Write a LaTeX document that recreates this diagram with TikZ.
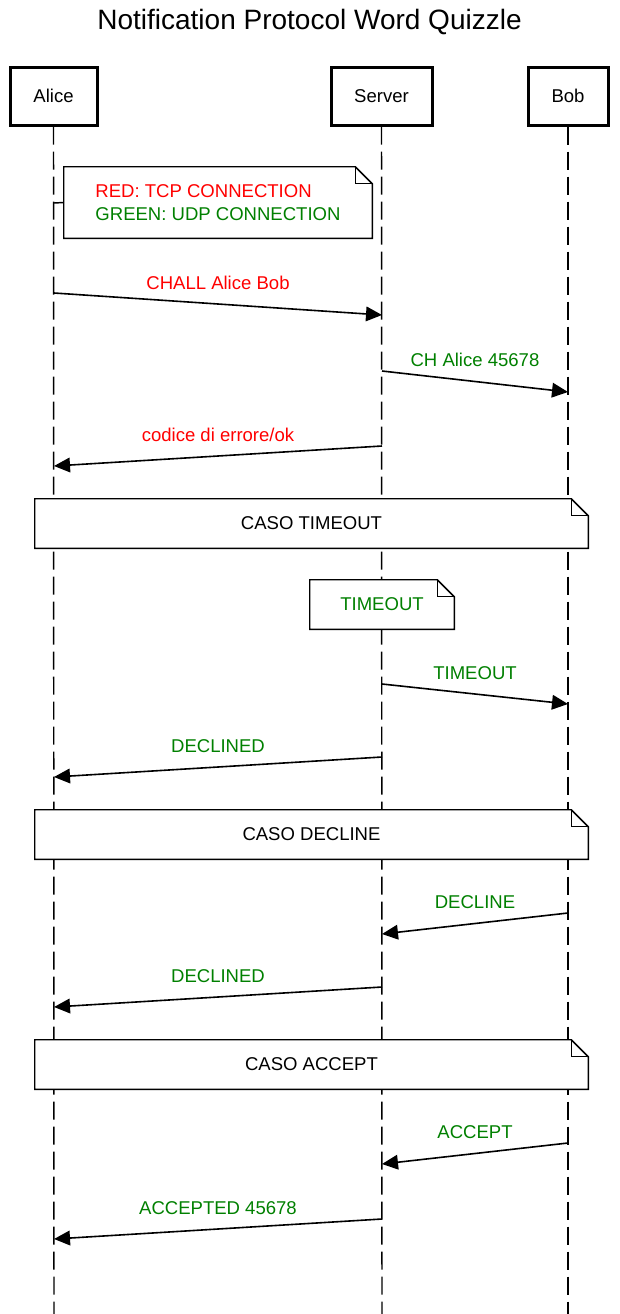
\documentclass[tikz,border=0pt]{standalone}
\usepackage{fontspec}
\setmainfont{Liberation Sans}
\usetikzlibrary{arrows.meta,positioning}

\definecolor{tcpred}{RGB}{255,0,0}
\definecolor{udpgreen}{RGB}{0,128,0}

% folded corner outline for notes and frames
\newcommand\foldbox[1]{%
  \filldraw[fill=white,line width=1.1pt] (#1.south west) -- (#1.north west)
    -- ([xshift=-12.75pt]#1.north east) -- ([yshift=-12.75pt]#1.north east)
    -- (#1.south east) -- cycle;
  \draw[line width=1.1pt] ([xshift=-12.75pt]#1.north east) |- ([yshift=-12.75pt]#1.north east);}

\begin{document}
\begin{tikzpicture}[x=0.75pt,y=-0.75pt,>=Triangle,
  every node/.style={font=\fontsize{13.9}{17}\selectfont},
  actor/.style={draw,line width=2.25pt,minimum height=43.5pt,inner sep=0pt},
  lifeline/.style={line width=1.1pt,dash pattern=on 13.5pt off 5.25pt},
  note/.style={inner sep=0pt},
  msg/.style={-{Triangle[length=12pt,width=11pt]},line width=1.2pt},
  lbl/.style={midway,yshift=16pt}]
\useasboundingbox (0,0) rectangle (619,1314);

\node[font=\fontsize{21}{25}\selectfont] (title) at (309.5,22) {Notification Protocol Word Quizzle};

% participants
\node[actor,minimum width=65.25pt] (alice)  at (53.5,96)  {Alice};
\node[actor,minimum width=75.75pt] (server) at (381.5,96) {Server};
\node[actor,minimum width=60pt]    (bob)    at (568,96)   {Bob};

\coordinate (aend) at (54,1314);
\coordinate (send) at (382,1314);
\coordinate (bend) at (568,1314);
\draw[lifeline] (alice.south) -- (aend);
\draw[lifeline] (server.south) -- (send);
\draw[lifeline] (bob.south) -- (bend);

% legend
\node[note,minimum width=231pt,minimum height=53.25pt] (legend) at (218,202.5) {};
\foldbox{legend}
\node[align=left] (legtxt) at (legend.center) {\textcolor{tcpred}{RED: TCP CONNECTION}\\\textcolor{udpgreen}{GREEN: UDP CONNECTION}};
\coordinate (l0) at (54,203);
\draw[line width=1.1pt] (l0) -- (legend.west);

% challenge
\coordinate (a1) at (54,293);  \coordinate (s1) at (382,315);
\coordinate (s2) at (382,371); \coordinate (b2) at (568,392);
\coordinate (s3) at (382,446); \coordinate (a3) at (54,466);
\draw[msg] (a1) -- (s1) node[lbl,text=tcpred] {CHALL Alice Bob};
\draw[msg] (s2) -- (b2) node[lbl,text=udpgreen] {CH Alice 45678};
\draw[msg] (s3) -- (a3) node[lbl,text=tcpred] {codice di errore/ok};

% caso timeout
\node[note,minimum width=414.75pt,minimum height=36.75pt] (ftimeout) at (311.5,523.5) {};
\foldbox{ftimeout}
\node (ttimeout) at (ftimeout.center) {CASO TIMEOUT};
\node[note,minimum width=108pt,minimum height=36.75pt] (ntimeout) at (382,604.5) {};
\foldbox{ntimeout}
\node[text=udpgreen] (ntxt) at (ntimeout.center) {TIMEOUT};

\coordinate (s4) at (382,684); \coordinate (b4) at (568,704);
\coordinate (s5) at (382,757); \coordinate (a5) at (54,777);
\draw[msg] (s4) -- (b4) node[lbl,text=udpgreen] {TIMEOUT};
\draw[msg] (s5) -- (a5) node[lbl,text=udpgreen] {DECLINED};

% caso decline
\node[note,minimum width=414.75pt,minimum height=36.75pt] (fdecline) at (311.5,834.5) {};
\foldbox{fdecline}
\node (tdecline) at (fdecline.center) {CASO DECLINE};

\coordinate (b6) at (568,913); \coordinate (s6) at (382,934);
\coordinate (s7) at (382,987); \coordinate (a7) at (54,1007);
\draw[msg] (b6) -- (s6) node[lbl,text=udpgreen] {DECLINE};
\draw[msg] (s7) -- (a7) node[lbl,text=udpgreen] {DECLINED};

% caso accept
\node[note,minimum width=414.75pt,minimum height=36.75pt] (faccept) at (311.5,1064.5) {};
\foldbox{faccept}
\node (taccept) at (faccept.center) {CASO ACCEPT};

\coordinate (b8) at (568,1143); \coordinate (s8) at (382,1164);
\coordinate (s9) at (382,1219); \coordinate (a9) at (54,1239);
\draw[msg] (b8) -- (s8) node[lbl,text=udpgreen] {ACCEPT};
\draw[msg] (s9) -- (a9) node[lbl,text=udpgreen] {ACCEPTED 45678};
\end{tikzpicture}
\end{document}
